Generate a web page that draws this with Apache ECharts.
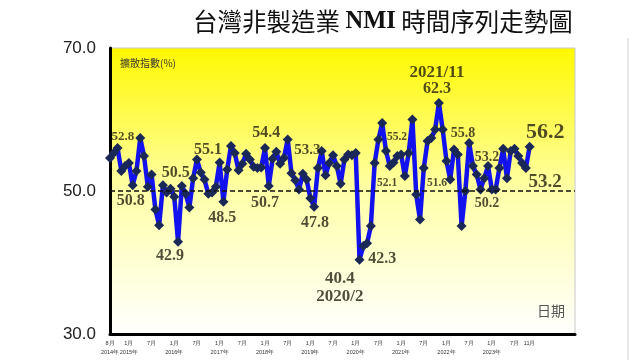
<!DOCTYPE html>
<html><head><meta charset="utf-8">
<script src="https://cdn.jsdelivr.net/npm/echarts@6/dist/echarts.min.js"></script>
<style>html,body{margin:0;padding:0;background:#fff}#c{width:640px;height:360px}</style>
</head><body><div id="c"></div>
<script>
// Monthly Taiwan NMI, 2014/8 .. 2023/11 (index 0 = 2014/8)
const nmi = [
54.6,55.3,56.0,52.8,53.5,53.9,50.8,52.8,57.4,54.9,50.6,52.3,
47.4,45.2,50.8,49.8,50.3,49.2,42.9,50.7,49.6,47.7,51.8,54.4,
52.6,51.6,49.6,49.8,50.6,54.0,48.5,53.0,56.3,55.3,52.9,53.8,
55.2,54.4,53.4,53.2,53.3,56.0,50.7,54.5,55.5,53.8,54.6,57.2,
52.5,51.5,50.2,52.4,51.6,49.0,47.8,53.2,55.6,52.2,53.9,55.0,
53.5,51.0,54.4,55.1,55.0,55.3,40.4,42.3,42.7,45.1,53.9,57.2,
59.5,55.6,53.5,54.0,54.9,55.1,52.1,55.3,60.0,49.5,46.0,53.2,
57.0,57.4,58.6,62.3,58.6,54.2,51.6,55.8,55.1,45.1,50.0,56.7,
53.5,52.3,50.2,51.8,53.5,50.2,50.2,53.2,55.9,51.8,55.6,55.9,
54.9,53.9,53.2,56.2
];
// x tick positions (month index) and their labels
const tickMonths = [0,5,11,17,23,29,35,41,47,53,59,65,71,77,83,89,95,101,107,111];
const tickLabels = ['8月\n2014年','1月\n2015年','7月','1月\n2016年','7月','1月\n2017年','7月','1月\n2018年','7月','1月\n2019年','7月','1月\n2020年','7月','1月\n2021年','7月','1月\n2022年','7月','1月\n2023年','7月','11月'];
// y ticks
const yTicks = [30, 50, 70];
// annotation texts
const noteTexts = ['52.8','50.8','50.5','42.9','55.1','48.5','54.4','50.7','53.3','47.8','40.4','2020/2','42.3','52.1','55.2','51.6','62.3','2021/11','55.8','53.2','50.2','56.2','53.2'];
// annotation placement (month index, value position, font size)
const notePlace = [
 [3.4,57.55,13],[5.5,48.6,16],[17.4,52.5,16],[15.9,40.9,16],[25.9,55.7,16],[29.7,46.2,16],
 [41.3,58.1,16],[41.0,48.3,16],[52.2,55.7,15],[54.2,45.5,16],[60.8,37.7,17],[60.8,35.2,17],
 [72.0,40.5,16],[73.3,51.1,11.5],[75.9,57.55,11.5],[86.5,51.1,11.5],[86.5,64.3,16],[86.5,66.6,17],
 [93.4,58.0,14],[99.7,54.75,14],[99.7,48.3,14],[115.1,58.25,22],[115.1,51.25,19]
];

const labelMap = {};
tickMonths.forEach((m,i)=>{labelMap[m]=tickLabels[i];});
const chart = echarts.init(document.getElementById('c'));
chart.setOption({
  animation:false,
  backgroundColor:'#fff',
  title:{
    text:'{a|台灣非製造業 }{b|NMI}{a| 時間序列走勢圖}',
    left:188, top:4,
    textStyle:{rich:{
      a:{fontFamily:'Noto Sans CJK TC',fontSize:24.5,color:'#111',fontWeight:'normal'},
      b:{fontFamily:'Liberation Serif',fontSize:24.5,color:'#111',fontWeight:'bold'}
    }}
  },
  grid:{left:110,right:65,top:48,bottom:26,show:true,borderColor:'#c8c8c8',borderWidth:1,
    backgroundColor:new echarts.graphic.LinearGradient(0,0,0,1,[
      {offset:0,color:'#FFF800'},{offset:0.5,color:'#FFFFA8'},{offset:1,color:'#FFFFFF'}])},
  xAxis:{type:'value',min:0,max:123,interval:1,
    axisLine:{show:true,onZero:false,lineStyle:{color:'#000',width:3}},
    axisTick:{show:false},splitLine:{show:false},
    axisLabel:{show:true,fontSize:5.5,lineHeight:9,color:'#333',margin:5,showMinLabel:true,showMaxLabel:false,
      formatter:v=>labelMap[v]||''}
  },
  yAxis:{type:'value',min:yTicks[0],max:yTicks[2],interval:yTicks[1]-yTicks[0],
    axisLine:{show:true,onZero:false,lineStyle:{color:'#000',width:3}},
    axisTick:{show:false},splitLine:{show:false},
    axisLabel:{fontSize:17,color:'#222',margin:14,fontFamily:'Liberation Sans',formatter:v=>v.toFixed(1)}
  },
  graphic:[
    {type:'text',left:120,top:58,style:{text:'擴散指數(%)',fontSize:10,fill:'#333',fontFamily:'Noto Sans CJK TC'}},
    {type:'text',left:537,top:304,style:{text:'日期',fontSize:14,fill:'#555',fontFamily:'Noto Sans CJK TC'}},
    {type:'line',shape:{x1:628,y1:38,x2:628,y2:360},style:{stroke:'#d4d4d4',lineWidth:1}}
  ],
  series:[
    {type:'line',data:nmi.map((v,i)=>[i,v]),
      lineStyle:{color:'#1212EE',width:4.5},
      symbol:'diamond',symbolSize:10,itemStyle:{color:'#1a2858'},
      markLine:{silent:true,symbol:'none',label:{show:false},
        lineStyle:{color:'#111',type:[5,3],width:1.5},data:[{yAxis:50}]},
      z:3},
    {type:'scatter',silent:true,symbolSize:1,itemStyle:{color:'rgba(0,0,0,0)'},z:5,
      data:notePlace.map((p,i)=>({value:[p[0],p[1]],
        label:{show:true,position:'inside',formatter:noteTexts[i],fontSize:p[2],
          fontFamily:'Liberation Serif',fontWeight:'bold',color:'#241f10'}}))}
  ]
});
</script></body></html>
